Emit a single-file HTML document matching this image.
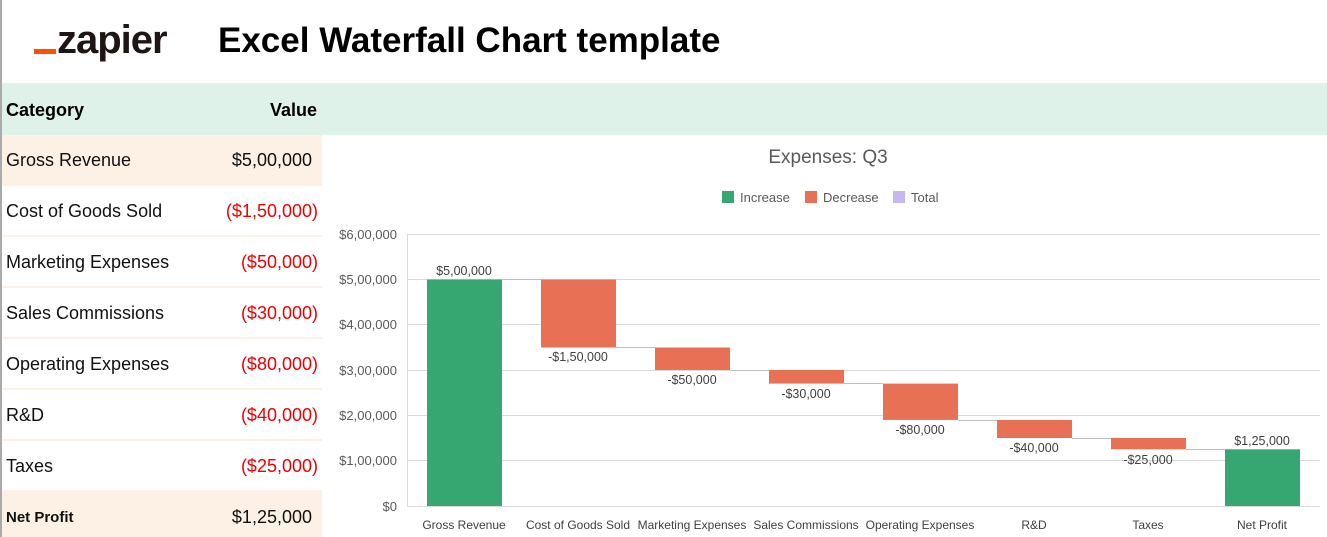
<!DOCTYPE html>
<html><head><meta charset="utf-8"><style>
body{margin:0;width:1327px;height:537px;overflow:hidden;background:#fff;font-family:"Liberation Sans",sans-serif;position:relative}
.abs{position:absolute}
.row{position:absolute;left:2px;width:320px;height:49px;border-bottom:2px solid #fdf1e5;font-size:18px;color:#111}
.row .c{position:absolute;left:4px;top:15px}
.row .v{position:absolute;right:4px;top:15px;color:#e00}
</style></head><body>
<div class="abs" style="left:0;top:0;width:2px;height:537px;background:#aaa"></div>
<div class="abs" style="left:34px;top:49px;width:22px;height:5px;background:#ff4f00"></div>
<div class="abs" style="left:57px;top:18px;font-size:40px;font-weight:bold;color:#201515;letter-spacing:-1px">zapier</div>
<div class="abs" style="left:218px;top:21px;font-size:35px;font-weight:bold;color:#000">Excel Waterfall Chart template</div>
<div class="abs" style="left:2px;top:83px;width:1325px;height:52px;background:#dff2ea"></div>
<div class="abs" style="left:6px;top:100px;font-size:18px;font-weight:bold">Category</div>
<div class="abs" style="left:270px;top:100px;font-size:18px;font-weight:bold">Value</div>
<div class="row" style="top:135px;background:#fdf1e5"><span class="c">Gross Revenue</span><span class="v" style="color:#111;right:10px">$5,00,000</span></div>
<div class="row" style="top:186px"><span class="c">Cost of Goods Sold</span><span class="v">($1,50,000)</span></div>
<div class="row" style="top:237px"><span class="c">Marketing Expenses</span><span class="v">($50,000)</span></div>
<div class="row" style="top:288px"><span class="c">Sales Commissions</span><span class="v">($30,000)</span></div>
<div class="row" style="top:339px"><span class="c">Operating Expenses</span><span class="v">($80,000)</span></div>
<div class="row" style="top:390px"><span class="c">R&amp;D</span><span class="v">($40,000)</span></div>
<div class="row" style="top:441px"><span class="c">Taxes</span><span class="v">($25,000)</span></div>
<div class="row" style="top:492px;height:45px;background:#fdf1e5;border:none"><span class="c" style="font-weight:bold;font-size:15px;top:17px">Net Profit</span><span class="v" style="color:#111;right:10px">$1,25,000</span></div>
<svg class="abs" style="left:0;top:0" width="1327" height="537" font-family="Liberation Sans, sans-serif">
<text x="828" y="163" font-size="19" fill="#595959" text-anchor="middle">Expenses: Q3</text>
<rect x="722" y="191" width="12" height="12" fill="#37a772"/><text x="740" y="202" font-size="13" fill="#595959">Increase</text>
<rect x="805" y="191" width="12" height="12" fill="#e87055"/><text x="823" y="202" font-size="13" fill="#595959">Decrease</text>
<rect x="893" y="191" width="12" height="12" fill="#c5b8f0"/><text x="911" y="202" font-size="13" fill="#595959">Total</text>
<g stroke="#d9d9d9" stroke-width="1">
<line x1="407" x2="1320" y1="234.5" y2="234.5"/><line x1="407" x2="1320" y1="279.5" y2="279.5"/><line x1="407" x2="1320" y1="324.5" y2="324.5"/><line x1="407" x2="1320" y1="370.5" y2="370.5"/><line x1="407" x2="1320" y1="415.5" y2="415.5"/><line x1="407" x2="1320" y1="460.5" y2="460.5"/><line x1="407" x2="1320" y1="506.5" y2="506.5"/><line x1="407.5" x2="407.5" y1="234" y2="506"/>
</g>
<g font-size="13" fill="#595959" text-anchor="end">
<text x="397" y="239">$6,00,000</text><text x="397" y="284">$5,00,000</text><text x="397" y="329">$4,00,000</text><text x="397" y="375">$3,00,000</text><text x="397" y="420">$2,00,000</text><text x="397" y="465">$1,00,000</text><text x="397" y="511">$0</text>
</g>
<g stroke="#bfbfbf" stroke-width="1">
<line x1="502" x2="541" y1="279.5" y2="279.5"/><line x1="616" x2="655" y1="347.5" y2="347.5"/><line x1="730" x2="769" y1="370.5" y2="370.5"/><line x1="844" x2="883" y1="383.5" y2="383.5"/><line x1="958" x2="997" y1="420.5" y2="420.5"/><line x1="1072" x2="1111" y1="438.5" y2="438.5"/><line x1="1186" x2="1225" y1="449.5" y2="449.5"/>
</g>
<rect x="427" y="279.5" width="75" height="226.5" fill="#37a772"/>
<rect x="541" y="279.5" width="75" height="68" fill="#e87055"/>
<rect x="655" y="347.5" width="75" height="22.5" fill="#e87055"/>
<rect x="769" y="370" width="75" height="13.6" fill="#e87055"/>
<rect x="883" y="383.6" width="75" height="36.3" fill="#e87055"/>
<rect x="997" y="420" width="75" height="18" fill="#e87055"/>
<rect x="1111" y="438" width="75" height="11.3" fill="#e87055"/>
<rect x="1225" y="449.3" width="75" height="56.7" fill="#37a772"/>
<g font-size="12.5" fill="#404040" text-anchor="middle">
<text x="464" y="275">$5,00,000</text><text x="578" y="361">-$1,50,000</text><text x="692" y="384">-$50,000</text><text x="806" y="398">-$30,000</text><text x="920" y="434">-$80,000</text><text x="1034" y="452">-$40,000</text><text x="1148" y="464">-$25,000</text><text x="1262" y="445">$1,25,000</text>
</g>
<g font-size="12" fill="#404040" text-anchor="middle">
<text x="464" y="529">Gross Revenue</text><text x="578" y="529">Cost of Goods Sold</text><text x="692" y="529">Marketing Expenses</text><text x="806" y="529">Sales Commissions</text><text x="920" y="529">Operating Expenses</text><text x="1034" y="529">R&amp;D</text><text x="1148" y="529">Taxes</text><text x="1262" y="529">Net Profit</text>
</g>
</svg>
</body></html>
